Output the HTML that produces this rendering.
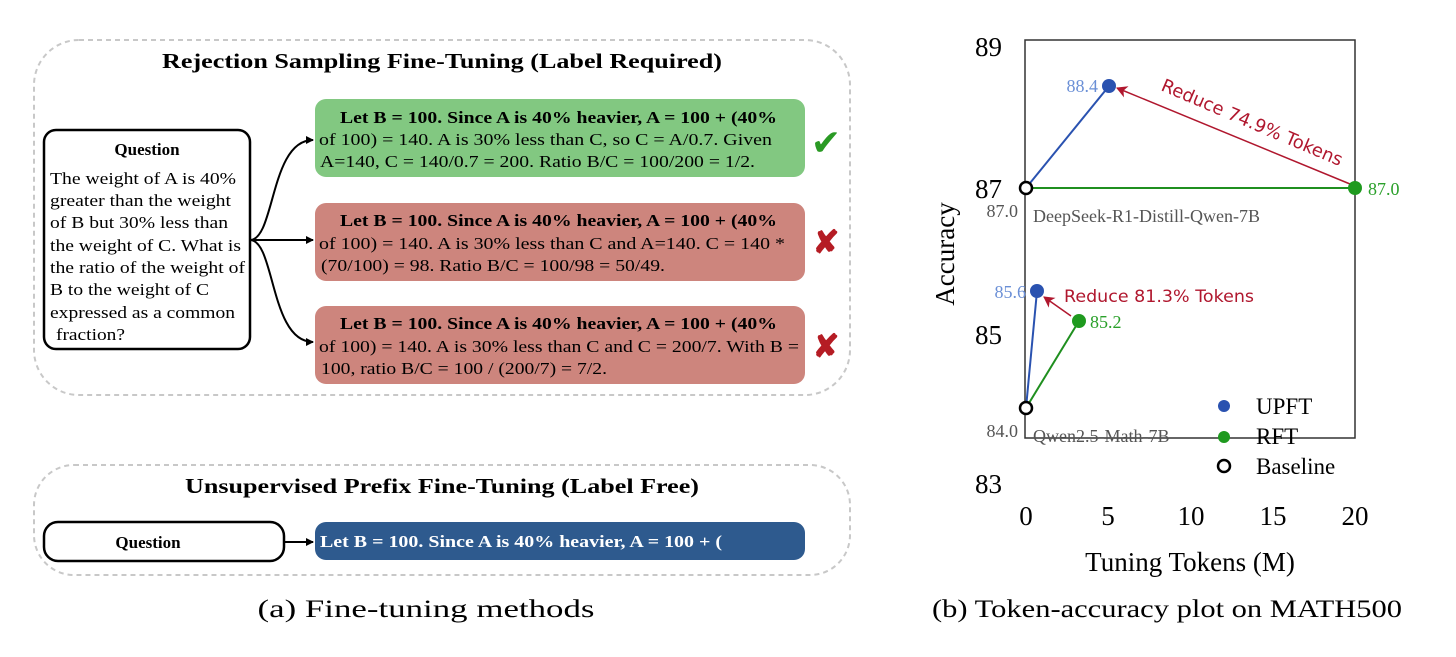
<!DOCTYPE html>
<html><head><meta charset="utf-8"><style>
html,body{margin:0;padding:0;background:#fff;}
svg{display:block;font-family:"Liberation Serif",serif;}
</style></head><body>
<svg width="1456" height="657" viewBox="0 0 1456 657" xmlns="http://www.w3.org/2000/svg">
<defs>
<marker id="ah" markerWidth="8" markerHeight="8" refX="7" refY="4" orient="auto" markerUnits="userSpaceOnUse"><path d="M0,0 L8,4 L0,8 z" fill="#000"/></marker>
<marker id="rh" markerWidth="12" markerHeight="12" refX="10" refY="6" orient="auto" markerUnits="userSpaceOnUse"><path d="M0,0 L11,6 L0,12 L3,6 z" fill="#b0172e"/></marker>
</defs>
<rect x="34" y="40" width="816" height="355" rx="45" fill="none" stroke="#c8c8c8" stroke-width="2" stroke-dasharray="5,4"/>
<text x="442" y="68" text-anchor="middle" font-weight="bold" font-size="21" textLength="560" lengthAdjust="spacingAndGlyphs">Rejection Sampling Fine-Tuning (Label Required)</text>
<rect x="44" y="130" width="206" height="219" rx="12" fill="#fff" stroke="#000" stroke-width="2.5"/>
<text x="147" y="155" text-anchor="middle" font-weight="bold" font-size="17">Question</text>
<g font-size="17">
<text x="50" y="184" textLength="186" lengthAdjust="spacingAndGlyphs">The weight of A is 40%</text>
<text x="50" y="206" textLength="181" lengthAdjust="spacingAndGlyphs">greater than the weight</text>
<text x="50" y="228" textLength="178" lengthAdjust="spacingAndGlyphs">of B but 30% less than</text>
<text x="50" y="251" textLength="191" lengthAdjust="spacingAndGlyphs">the weight of C. What is</text>
<text x="50" y="273" textLength="195" lengthAdjust="spacingAndGlyphs">the ratio of the weight of</text>
<text x="50" y="295" textLength="159" lengthAdjust="spacingAndGlyphs">B to the weight of C</text>
<text x="50" y="318" textLength="185" lengthAdjust="spacingAndGlyphs">expressed as a common</text>
<text x="56" y="340" textLength="69" lengthAdjust="spacingAndGlyphs">fraction?</text>
</g>
<path d="M250,240 C275,240 270,140 313,140" fill="none" stroke="#000" stroke-width="2" marker-end="url(#ah)"/>
<path d="M250,240 L313,240" fill="none" stroke="#000" stroke-width="2" marker-end="url(#ah)"/>
<path d="M250,240 C275,240 270,342 313,342" fill="none" stroke="#000" stroke-width="2" marker-end="url(#ah)"/>
<rect x="315" y="99" width="490" height="78" rx="11" fill="#82c881"/>
<rect x="315" y="203" width="490" height="78" rx="11" fill="#cd857d"/>
<rect x="315" y="306" width="490" height="78" rx="11" fill="#cd857d"/>
<g font-size="17">
<text x="340" y="123" font-weight="bold" textLength="437" lengthAdjust="spacingAndGlyphs">Let B = 100.  Since A is 40% heavier, A = 100 + (40%</text>
<text x="319" y="145" textLength="453" lengthAdjust="spacingAndGlyphs">of 100) = 140. A is 30% less than C, so C = A/0.7.  Given</text>
<text x="320" y="167" textLength="435" lengthAdjust="spacingAndGlyphs">A=140, C = 140/0.7 = 200. Ratio B/C = 100/200 = 1/2.</text>
<text x="340" y="226" font-weight="bold" textLength="437" lengthAdjust="spacingAndGlyphs">Let B = 100.  Since A is 40% heavier, A = 100 + (40%</text>
<text x="319" y="249" textLength="466" lengthAdjust="spacingAndGlyphs">of 100) = 140. A is 30% less than C and A=140.  C = 140 *</text>
<text x="321" y="271" textLength="344" lengthAdjust="spacingAndGlyphs">(70/100) = 98. Ratio B/C = 100/98 = 50/49.</text>
<text x="340" y="329" font-weight="bold" textLength="437" lengthAdjust="spacingAndGlyphs">Let B = 100.  Since A is 40% heavier, A = 100 + (40%</text>
<text x="319" y="352" textLength="480" lengthAdjust="spacingAndGlyphs">of 100) = 140. A is 30% less than C and C = 200/7. With B =</text>
<text x="321" y="374" textLength="286" lengthAdjust="spacingAndGlyphs">100, ratio B/C = 100 / (200/7) = 7/2.</text>
</g>
<text x="826" y="155" font-size="36" fill="#2a9a24" text-anchor="middle">✔</text>
<text x="826" y="253" font-size="32" fill="#b51c24" text-anchor="middle" font-weight="bold">✘</text>
<text x="826" y="357" font-size="32" fill="#b51c24" text-anchor="middle" font-weight="bold">✘</text>
<rect x="34" y="465" width="816" height="110" rx="40" fill="none" stroke="#c8c8c8" stroke-width="2" stroke-dasharray="5,4"/>
<text x="442" y="493" text-anchor="middle" font-weight="bold" font-size="21" textLength="514" lengthAdjust="spacingAndGlyphs">Unsupervised Prefix Fine-Tuning (Label Free)</text>
<rect x="44" y="522" width="240" height="39" rx="14" fill="#fff" stroke="#000" stroke-width="2.5"/>
<text x="148" y="548" text-anchor="middle" font-weight="bold" font-size="17">Question</text>
<path d="M284,542 L313,542" stroke="#000" stroke-width="2" marker-end="url(#ah)"/>
<rect x="315" y="522" width="490" height="38" rx="11" fill="#2e5a8e"/>
<text x="320" y="547" font-weight="bold" font-size="17" fill="#fff" textLength="402" lengthAdjust="spacingAndGlyphs">Let B = 100.  Since A is 40% heavier, A = 100 + (</text>
<text x="426" y="617" text-anchor="middle" font-size="25" textLength="337" lengthAdjust="spacingAndGlyphs">(a) Fine-tuning methods</text>

<rect x="1025" y="40" width="330" height="398" fill="none" stroke="#333" stroke-width="1.5"/>
<g font-size="27" text-anchor="end">
<text x="1002" y="56">89</text><text x="1002" y="198">87</text><text x="1002" y="344">85</text><text x="1002" y="493">83</text>
</g>
<g font-size="27" text-anchor="middle">
<text x="1026" y="525">0</text><text x="1108" y="525">5</text><text x="1191" y="525">10</text><text x="1273" y="525">15</text><text x="1355" y="525">20</text>
</g>
<text x="1190" y="571" font-size="27" text-anchor="middle">Tuning Tokens (M)</text>
<text transform="translate(954,254) rotate(-90)" font-size="27" text-anchor="middle">Accuracy</text>
<text x="1167" y="617" font-size="25" text-anchor="middle" textLength="470" lengthAdjust="spacingAndGlyphs">(b) Token-accuracy plot on MATH500</text>
<line x1="1026" y1="188" x2="1355" y2="188" stroke="#1f8f1f" stroke-width="2"/>
<line x1="1026" y1="188" x2="1109" y2="86" stroke="#2a52b0" stroke-width="2"/>
<line x1="1026" y1="408" x2="1037" y2="291" stroke="#2a52b0" stroke-width="2"/>
<line x1="1026" y1="408" x2="1079" y2="321" stroke="#1f8f1f" stroke-width="2"/>
<line x1="1350" y1="184" x2="1117" y2="88" stroke="#b0172e" stroke-width="1.5" marker-end="url(#rh)"/>
<line x1="1071" y1="316" x2="1044" y2="297" stroke="#b0172e" stroke-width="1.5" marker-end="url(#rh)"/>
<circle cx="1109" cy="86" r="7" fill="#2a52b0"/>
<circle cx="1037" cy="291" r="7" fill="#2a52b0"/>
<circle cx="1355" cy="188" r="7" fill="#1f9a1f"/>
<circle cx="1079" cy="321" r="7" fill="#1f9a1f"/>
<circle cx="1026" cy="188" r="6" fill="#fff" stroke="#000" stroke-width="2.5"/>
<circle cx="1026" cy="408" r="6" fill="#fff" stroke="#000" stroke-width="2.5"/>
<g font-size="18">
<text x="1098" y="92" text-anchor="end" fill="#6a8fd6">88.4</text>
<text x="1026" y="298" text-anchor="end" fill="#6a8fd6">85.6</text>
<text x="1368" y="195" fill="#2aa02a">87.0</text>
<text x="1090" y="328" fill="#2aa02a">85.2</text>
<text x="1018" y="217" text-anchor="end" fill="#555">87.0</text>
<text x="1018" y="437" text-anchor="end" fill="#555">84.0</text>
<text x="1033" y="222" fill="#555">DeepSeek-R1-Distill-Qwen-7B</text>
<text x="1033" y="442" fill="#555">Qwen2.5-Math-7B</text>
</g>
<text x="1160" y="90" font-family="'DejaVu Sans',sans-serif" font-size="18" fill="#b0172e" transform="rotate(23 1160 90)" textLength="195" lengthAdjust="spacingAndGlyphs">Reduce 74.9% Tokens</text>
<text x="1064" y="302" font-family="'DejaVu Sans',sans-serif" font-size="17" fill="#b0172e" textLength="190" lengthAdjust="spacingAndGlyphs">Reduce 81.3% Tokens</text>
<circle cx="1224" cy="406" r="6" fill="#2a52b0"/>
<circle cx="1224" cy="437" r="6" fill="#1f9a1f"/>
<circle cx="1224" cy="466" r="6" fill="#fff" stroke="#000" stroke-width="2.5"/>
<g font-size="23">
<text x="1256" y="414">UPFT</text><text x="1256" y="444">RFT</text><text x="1256" y="474">Baseline</text>
</g>
</svg>
</body></html>
